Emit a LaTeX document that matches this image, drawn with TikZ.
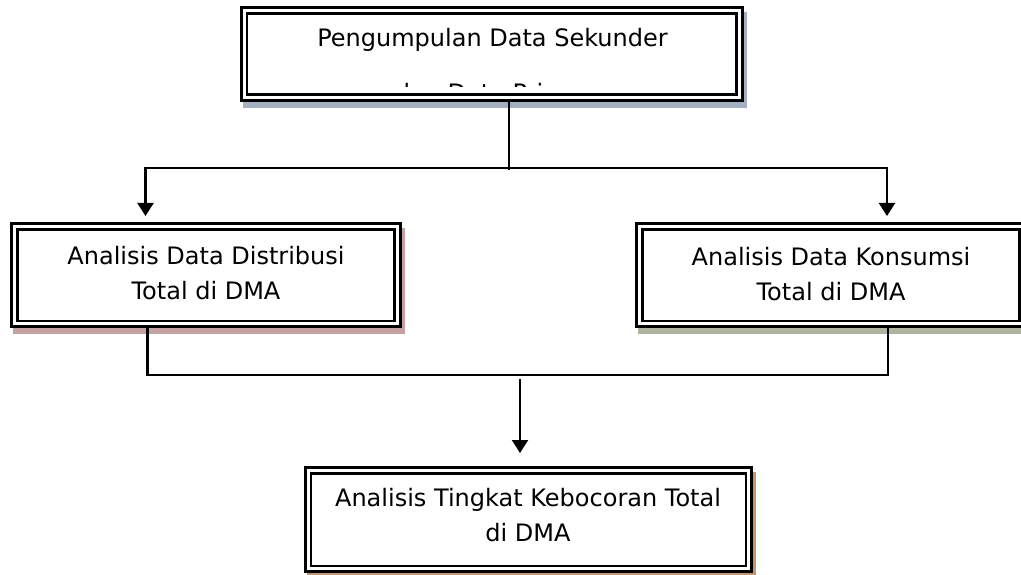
\documentclass[tikz,border=0pt]{standalone}
\usepackage{fontspec}
\setmainfont{DejaVu Sans}
\usetikzlibrary{arrows.meta,backgrounds}
\definecolor{shTop}{HTML}{A4AFBF}
\definecolor{shLeft}{HTML}{C4A2A2}
\definecolor{shRight}{HTML}{ADB5A0}
\definecolor{shBot}{HTML}{C8956B}
\begin{document}
\begin{tikzpicture}[x=1pt,y=1pt,
  box/.style={draw, line width=3pt, fill=white, inner sep=0pt, outer sep=0pt},
  innerline/.style={line width=2.5pt},
  txt/.style={font=\fontsize{24}{35}\selectfont, align=center, inner sep=0pt},
  conn/.style={line width=2.2pt, line cap=rect},
  arr/.style={conn, -{Triangle[width=16pt,length=13pt]}}]
\useasboundingbox (0,0) rectangle (1021,574);
% boxes
\node[box, minimum width=500.5pt, minimum height=92.3pt] (top) at (491.75,519.85) {};
\node[box, minimum width=388.3pt, minimum height=102.7pt] (left) at (205.85,298.65) {};
\node[box, minimum width=388.3pt, minimum height=102.7pt] (right) at (830.85,298.65) {};
\node[box, minimum width=446.2pt, minimum height=104pt] (bot) at (528.6,54.3) {};
\foreach \n in {top,left,right,bot}
  \draw[innerline] ([shift={(5.6,-5.6)}]\n.north west) rectangle ([shift={(-5.6,5.6)}]\n.south east);
\begin{scope}[on background layer]
\foreach \n/\c in {top/shTop,left/shLeft,right/shRight,bot/shBot}
  \fill[\c] ([shift={(1.5,-4.5)}]\n.north west) rectangle ([shift={(4.5,-7.5)}]\n.south east);
\end{scope}
% texts
\node[txt, anchor=base] (t1) at (492.5,527) {Pengumpulan Data Sekunder};
\begin{scope}
  \clip (top.north west) rectangle (1021,487.5);
  \node[txt, anchor=base] (t2) at (493,472) {dan Data Primer};
\end{scope}
\node[txt] (tl) at (206,300.45) {Analisis Data Distribusi\\Total di DMA};
\node[txt] (tr) at (831,299.45) {Analisis Data Konsumsi\\Total di DMA};
\node[txt] (tb) at (528,58.45) {Analisis Tingkat Kebocoran Total\\di DMA};
% connectors
\coordinate (j1) at (509,405);
\coordinate (hL) at (145.5,406.3);
\coordinate (hR) at (887,406.3);
\draw[conn] (top.south -| j1) -- (j1);
\draw[arr, shorten >=8pt] (hR) -- (hL) -- (hL |- left.north);
\draw[arr, shorten >=8pt] (hR) -- (hR |- right.north);
\coordinate (bL) at (147.5,199);
\coordinate (bR) at (888,199);
\draw[conn] (left.south -| bL) -- (bL) -- (bR) -- (right.south -| bR);
\coordinate (d1) at (520,194);
\draw[arr, shorten >=14.7pt] (d1) -- (d1 |- bot.north);
\end{tikzpicture}
\end{document}
